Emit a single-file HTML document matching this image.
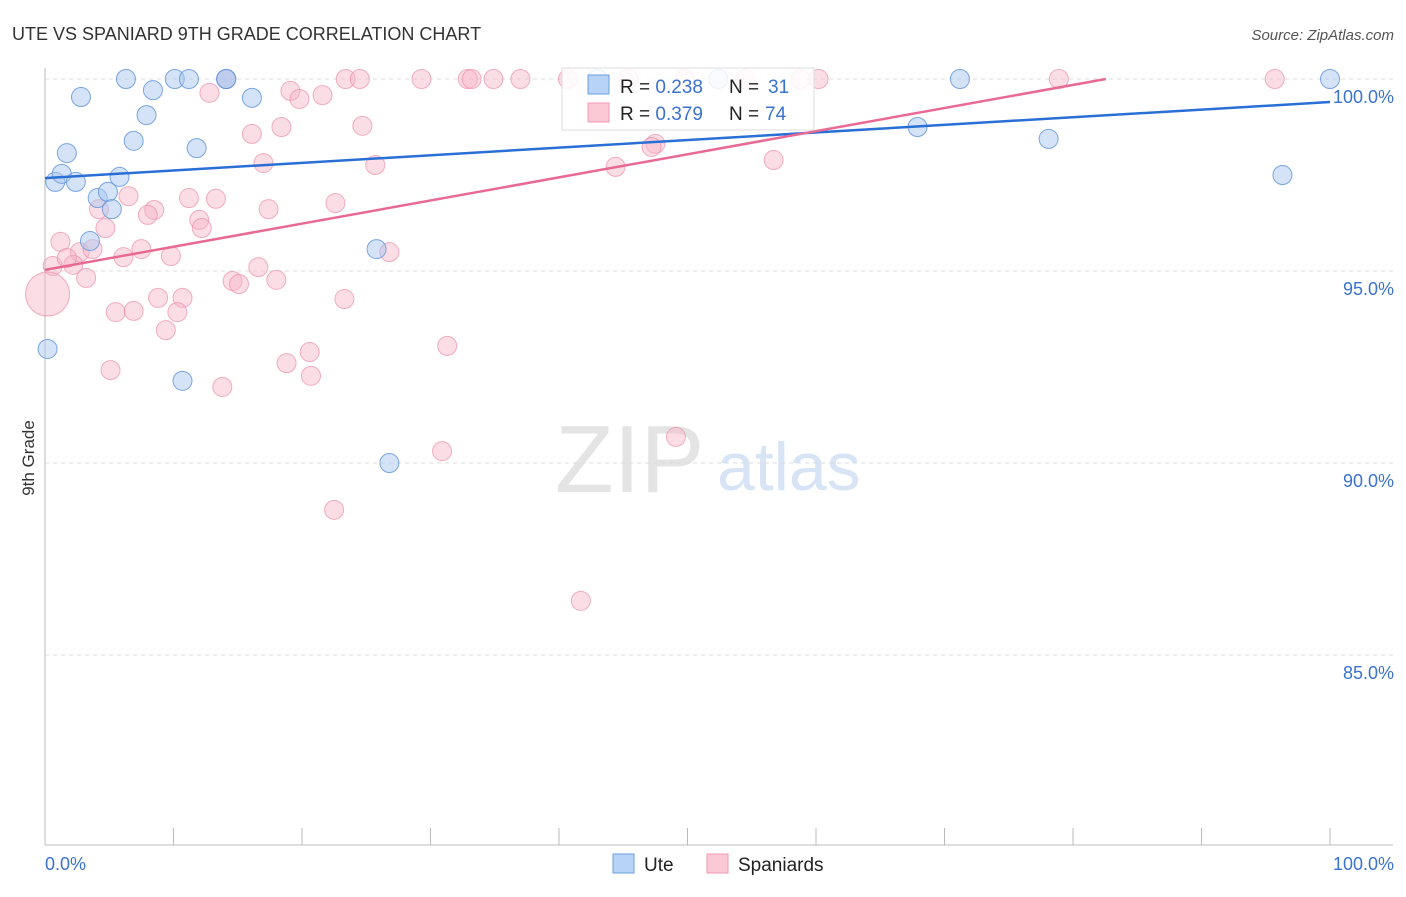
<!DOCTYPE html>
<html><head><meta charset="utf-8"><style>
body{margin:0;background:#fff;font-family:"Liberation Sans",sans-serif;}
svg text{font-family:"Liberation Sans",sans-serif;}
</style></head><body>
<svg id="c" width="1406" height="892">
<text x="12" y="40" font-size="18" fill="#333">UTE VS SPANIARD 9TH GRADE CORRELATION CHART</text>
<text x="1394" y="40" font-size="15" fill="#555" text-anchor="end" font-style="italic">Source: ZipAtlas.com</text>
<text x="34" y="458" font-size="17" fill="#333" text-anchor="middle" transform="rotate(-90 34 458)">9th Grade</text>
<text x="555" y="492" font-size="96" fill="#e4e4e4" font-family="Liberation Serif">ZIP</text>
<text x="717" y="490" font-size="68" fill="#d6e4f5">atlas</text>
<g id="grid"></g><g id="pts"></g><g id="lines"></g>
<g>
<rect x="562" y="68" width="252" height="62" fill="#fff" fill-opacity="0.85" stroke="#ddd"/>
<rect x="588" y="75" width="21" height="19" fill="#b7d3f5" stroke="#6a9fe0"/>
<rect x="588" y="103" width="21" height="19" fill="#fbc8d6" stroke="#f09ab2"/>
<text x="620" y="93" font-size="19" fill="#222">R = <tspan fill="#3a72d0">0.238</tspan></text>
<text x="729" y="93" font-size="19" fill="#222">N =</text>
<text x="768" y="93" font-size="19" fill="#3a72d0">31</text>
<text x="620" y="120" font-size="19" fill="#222">R = <tspan fill="#3a72d0">0.379</tspan></text>
<text x="729" y="120" font-size="19" fill="#222">N =</text>
<text x="765" y="120" font-size="19" fill="#3a72d0">74</text>
</g>
<g>
<rect x="613" y="854" width="21" height="19" fill="#b7d3f5" stroke="#6a9fe0"/>
<text x="644" y="871" font-size="19" fill="#222">Ute</text>
<rect x="707" y="854" width="21" height="19" fill="#fbc8d6" stroke="#f09ab2"/>
<text x="738" y="871" font-size="19" fill="#222">Spaniards</text>
</g>
<text x="45" y="870" font-size="18" fill="#3a72d0">0.0%</text>
<text x="1394" y="870" font-size="18" fill="#3a72d0" text-anchor="end">100.0%</text>
</svg>
<script>
const yTicks=[100,95,90,85];
const yTickLabels=["100.0%","95.0%","90.0%","85.0%"];
const xTicks=[0,10,20,30,40,50,60,70,80,90,100];
const utePx=[[126,79],[175,79],[189,79],[226,79],[81,97],[153,90],[252,98],[146,115],[134,141],[67,153],[197,148],[55,182],[62,174],[76,182],[119,177],[98,198],[108,192],[112,209],[90,241],[376,249],[47,349],[183,381],[390,463],[597,79],[718,79],[960,79],[1330,79],[918,127],[1048,139],[1282,175],[226,79]];
const spPx=[[226,79],[291,91],[210,93],[299,99],[322,95],[252,134],[281,127],[363,126],[263,163],[375,165],[346,79],[360,79],[422,79],[468,79],[471,79],[493,79],[521,79],[568,79],[629,79],[685,79],[745,79],[800,79],[818,79],[1059,79],[1275,79],[656,144],[652,147],[615,167],[773,160],[189,198],[216,199],[154,210],[148,215],[128,196],[99,209],[199,220],[202,228],[105,228],[268,209],[336,203],[60,242],[80,252],[92,249],[141,249],[123,257],[171,256],[389,252],[53,266],[73,265],[258,267],[86,278],[232,281],[239,284],[276,280],[158,298],[183,298],[344,299],[116,312],[134,311],[177,312],[166,330],[447,346],[310,352],[287,363],[311,376],[110,370],[222,387],[442,451],[676,437],[334,510],[581,601],[67,258],[47,294]];
const uteX=utePx.map(p=>+((p[0]-45)/12.85).toFixed(1)), uteY=utePx.map(p=>+(100-(p[1]-79)/38.4).toFixed(2));
const spX=spPx.map(p=>+((p[0]-45)/12.85).toFixed(1)), spY=spPx.map(p=>+(100-(p[1]-79)/38.4).toFixed(2));
const uteTrend=[97.42,99.40];
const spTrend=[95.03,101.05];
const X=v=>45+v*12.85, Y=v=>79+(100-v)*38.4;
const NS="http://www.w3.org/2000/svg";
function mk(t,a,p){const e=document.createElementNS(NS,t);for(const k in a)e.setAttribute(k,a[k]);p.appendChild(e);return e;}
const g=document.getElementById('grid');
yTicks.forEach((v,i)=>{
 const l=mk('line',{x1:45,x2:1393,y1:Y(v),y2:Y(v),stroke:'#ddd','stroke-dasharray':'4 4'},g);
 
 
 const t=mk('text',{x:1394,y:Y(v)+24,'font-size':18,fill:'#3a72d0','text-anchor':'end'},g);t.textContent=yTickLabels[i];
 
 
});
const ax=mk('line',{x1:45,x2:45,y1:68,y2:845,stroke:'#bbb'},g);


const bx=mk('line',{x1:45,x2:1393,y1:845,y2:845,stroke:'#bbb'},g);


xTicks.forEach(v=>{const l=mk('line',{x1:X(v),x2:X(v),y1:828,y2:845,stroke:'#bbb'},g);
 
 });
const P=document.getElementById('pts');
spX.forEach((x,i)=>{const big=(i===spX.length-1);const c=mk('circle',{cx:X(x),cy:Y(spY[i]),r:big?22:9.5,fill:'#f7b3c6','fill-opacity':0.45,stroke:'#ec8fab','stroke-opacity':0.7},P);
 
 });
uteX.forEach((x,i)=>{const c=mk('circle',{cx:X(x),cy:Y(uteY[i]),r:9.5,fill:'#a9c8f0','fill-opacity':0.5,stroke:'#5d92dc','stroke-opacity':0.8},P);
 
 });
const L=document.getElementById('lines');
const u=mk('line',{x1:X(0),y1:Y(uteTrend[0]),x2:X(100),y2:Y(uteTrend[1]),stroke:'#2a6fd6','stroke-width':2.5},L);


let xe=100,ye=spTrend[1];if(ye>100){xe=(100-spTrend[0])/(spTrend[1]-spTrend[0])*100;ye=100;}
const s=mk('line',{x1:X(0),y1:Y(spTrend[0]),x2:X(xe),y2:Y(ye),stroke:'#e86a94','stroke-width':2.5},L);


</script>
</body></html>
